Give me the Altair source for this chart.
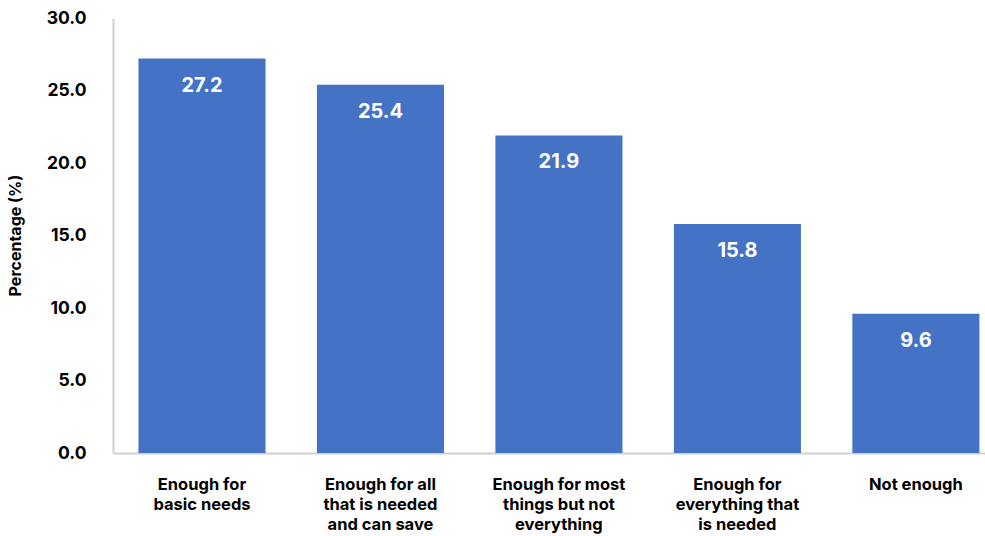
import altair as alt
import pandas as pd

categories = [
    "Enough for\nbasic needs",
    "Enough for all\nthat is needed\nand can save",
    "Enough for most\nthings but not\neverything",
    "Enough for\neverything that\nis needed",
    "Not enough",
]
values = [27.2, 25.4, 21.9, 15.8, 9.6]

df = pd.DataFrame({"category": categories, "value": values})

FONT = "Inter"
BLUE = "#4472C4"
AXIS_GRAY = "#D0D0D0"

x = alt.X(
    "category:N",
    sort=categories,
    title=None,
    scale=alt.Scale(paddingInner=0.288, paddingOuter=0.087, align=0.82),
    axis=alt.Axis(
        labelExpr="split(datum.label, '\\n')",
        labelAngle=0,
        labelFont=FONT,
        labelFontSize=16.5,
        labelFontWeight="bold",
        labelColor="#000000",
        labelLineHeight=20,
        labelBaseline="top",
        labelPadding=23,
        labelLimit=300,
        ticks=False,
        domainColor=AXIS_GRAY,
        domainWidth=2,
    ),
)

y = alt.Y(
    "value:Q",
    title="Percentage (%)",
    scale=alt.Scale(domain=[0, 30], nice=False),
    axis=alt.Axis(
        values=[0, 5, 10, 15, 20, 25, 30],
        format=".1f",
        grid=False,
        ticks=False,
        labelFont=FONT,
        labelFontSize=17.5,
        labelFontWeight="bold",
        labelColor="#000000",
        labelPadding=27,
        domainColor=AXIS_GRAY,
        domainWidth=2,
        titleFont=FONT,
        titleFontSize=16,
        titleFontWeight="bold",
        titleColor="#000000",
        titleAngle=-90,
        titleX=-98,
        titleY=217,
        titleAlign="center",
        titleBaseline="middle",
    ),
)

bars = alt.Chart(df).mark_bar(color=BLUE).encode(x=x, y=y)

labels = alt.Chart(df).mark_text(
    color="white",
    font=FONT,
    fontSize=20,
    fontWeight="bold",
    baseline="middle",
    align="center",
    dy=27,
).encode(
    x=alt.X("category:N", sort=categories),
    y=alt.Y("value:Q"),
    text=alt.Text("value:Q", format=".1f"),
)

chart = (
    alt.layer(bars, labels)
    .properties(
        width=872,
        height=435,
        autosize=alt.AutoSizeParams(type="none"),
        padding={"left": 113, "top": 18, "right": 0, "bottom": 83},
        background="white",
    )
    .configure_view(stroke=None)
)

chart.save("out.html", embed_options={"renderer": "svg", "actions": False})
